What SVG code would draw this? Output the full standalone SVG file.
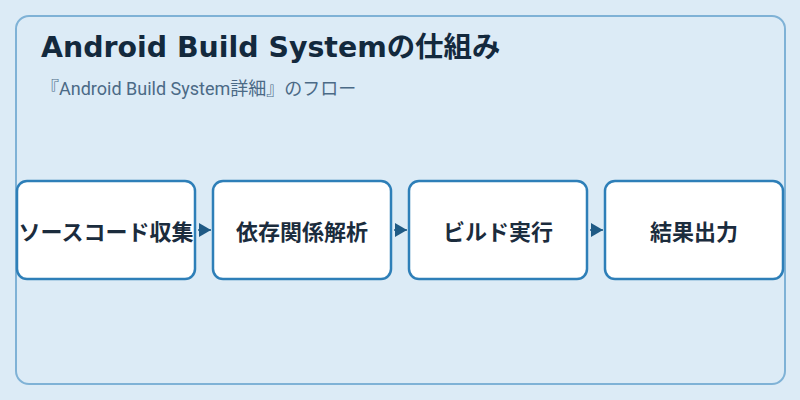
<svg xmlns="http://www.w3.org/2000/svg" width="800" height="400" viewBox="0 0 800 400">
<defs>
<style>
.panel{fill:#dcebf6;stroke:#7fb2d6;stroke-width:2}
.box{fill:#ffffff;stroke:#2e7fb8;stroke-width:2.5}
.lbl{font-family:"Noto Sans CJK JP","Noto Sans",sans-serif;font-size:22px;font-weight:bold;fill:#1b2c3d;text-anchor:middle;dominant-baseline:central}
.title{font-family:"DejaVu Sans","Noto Sans CJK JP",sans-serif;font-size:28.4px;font-weight:bold;fill:#13293d}
.sub{font-family:"Roboto","Noto Sans CJK JP",sans-serif;font-size:18px;fill:#4b6a86}
.conn{stroke:#1f5a85;stroke-width:1.5;fill:none}
</style>
<marker id="arr" viewBox="0 0 12 14" refX="12" refY="7" markerWidth="12" markerHeight="14" markerUnits="userSpaceOnUse" orient="auto">
<path d="M0,0 L12,7 L0,14 Z" fill="#1f5a85"/>
</marker>
</defs>
<rect x="0" y="0" width="800" height="400" fill="#dcebf6"/>
<rect class="panel" x="16" y="16" width="769" height="368" rx="13"/>
<text class="title" x="41" y="57">Android Build Systemの仕組み</text>
<text class="sub" x="41" y="95">『Android Build System詳細』のフロー</text>
<g id="connectors">
<line class="conn" x1="198" y1="230" x2="211" y2="230" marker-end="url(#arr)"/>
<line class="conn" x1="394" y1="230" x2="407" y2="230" marker-end="url(#arr)"/>
<line class="conn" x1="590" y1="230" x2="603" y2="230" marker-end="url(#arr)"/>
</g>
<g id="node1"><rect class="box" x="17" y="181" width="178" height="98" rx="10"/><text class="lbl" x="106" y="230">ソースコード収集</text></g>
<g id="node2"><rect class="box" x="213" y="181" width="178" height="98" rx="10"/><text class="lbl" x="302" y="230">依存関係解析</text></g>
<g id="node3"><rect class="box" x="409" y="181" width="178" height="98" rx="10"/><text class="lbl" x="498" y="230">ビルド実行</text></g>
<g id="node4"><rect class="box" x="605" y="181" width="178" height="98" rx="10"/><text class="lbl" x="694" y="230">結果出力</text></g>
</svg>
